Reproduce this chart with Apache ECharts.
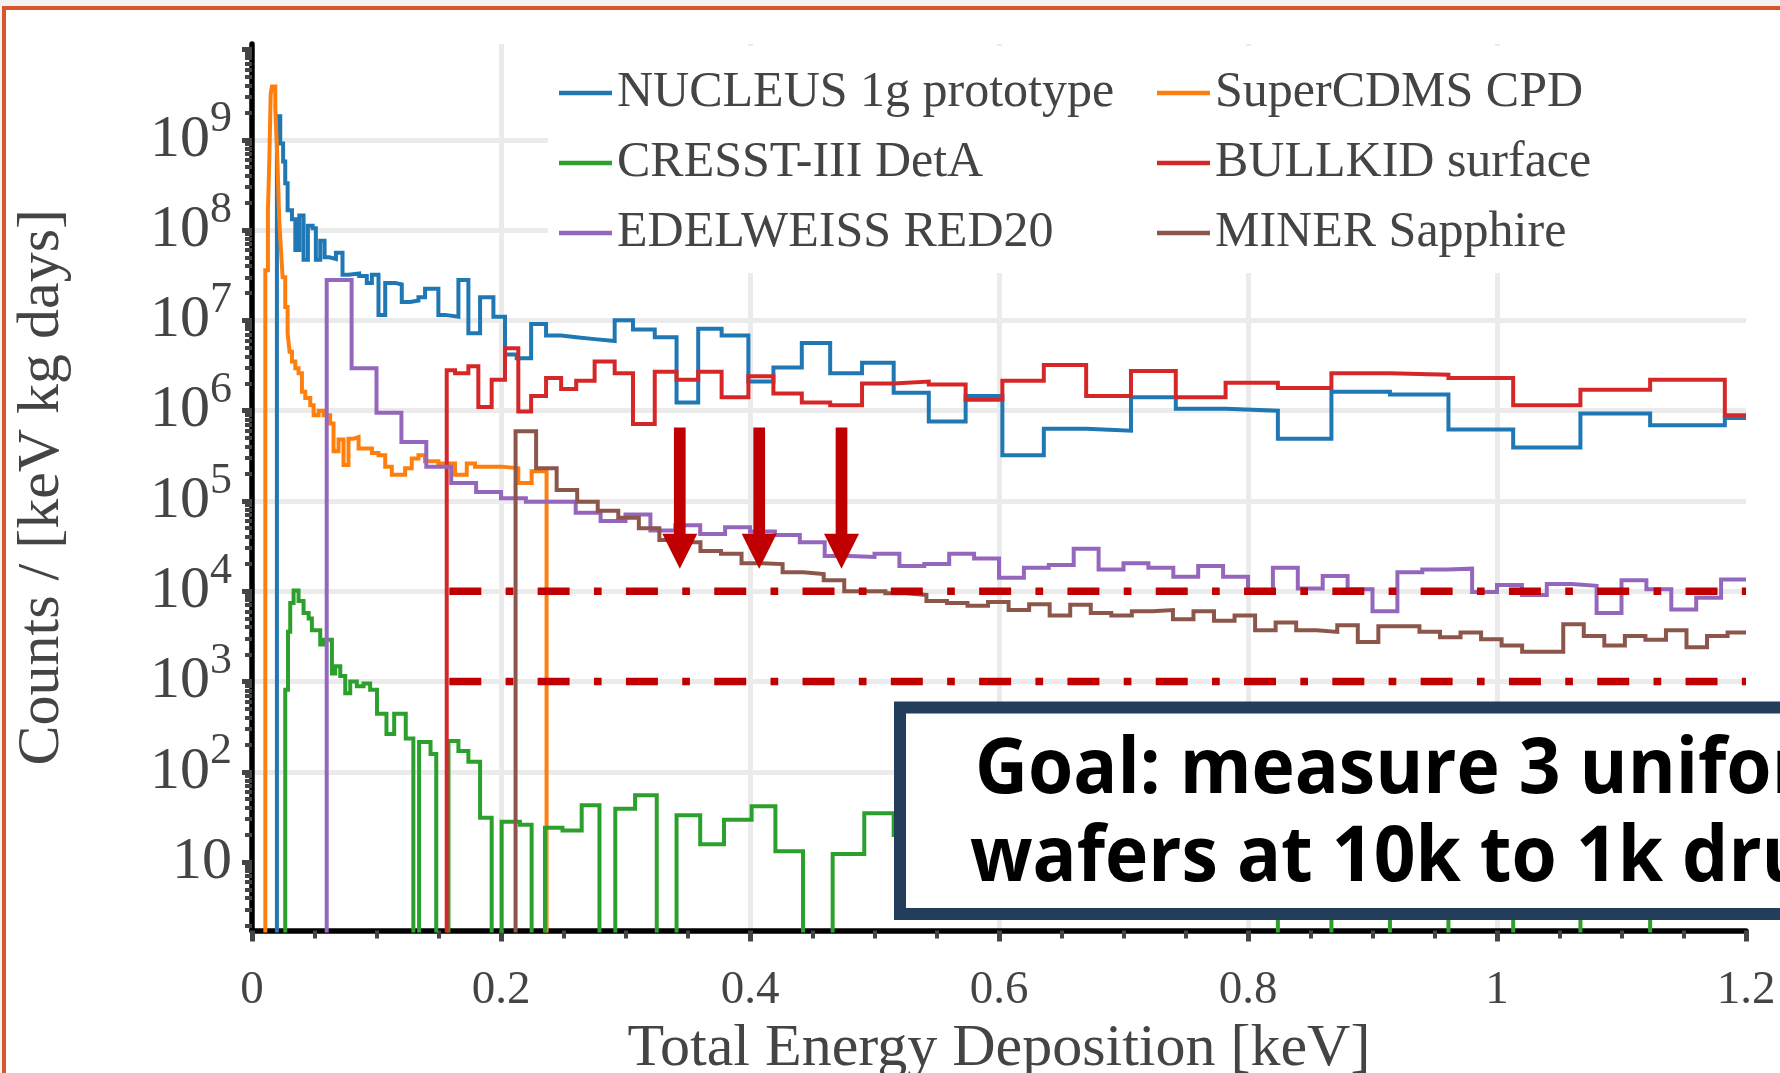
<!DOCTYPE html>
<html><head><meta charset="utf-8">
<script src="https://cdn.jsdelivr.net/npm/echarts@6/dist/echarts.min.js"></script>
<style>
html,body{margin:0;padding:0;width:1780px;height:1073px;overflow:hidden;background:#f2f2f2;}
#slide{position:absolute;left:2px;top:6px;width:2000px;height:2000px;border-left:4px solid #d9552e;border-top:4px solid #d9552e;background:#fff;}
#chart{position:absolute;left:0;top:0;width:1780px;height:1073px;}
</style></head><body><div id="slide"></div><div id="chart"></div>
<script>
// ---------------- data ----------------
const seriesNames = ['NUCLEUS 1g prototype','SuperCDMS CPD','CRESST-III DetA','BULLKID surface','EDELWEISS RED20','MINER Sapphire'];
const seriesColors = ['#1f77b4','#ff7f0e','#2ca02c','#d62728','#9467bd','#8c564b'];

const nucleusEdges = [0.020,0.0227,0.025,0.0267,0.0286,0.0321,0.0348,0.038,0.0414,0.0449,0.0487,0.0513,0.0548,0.0583,0.062,0.0674,0.0727,0.0775,0.0861,0.0922,0.0963,0.1016,0.107,0.115,0.1203,0.127,0.1337,0.139,0.1497,0.155,0.1658,0.1738,0.1832,0.1939,0.2032,0.2126,0.2242,0.2362,0.2483,0.2604,0.2752,0.2913,0.306,0.3235,0.341,0.3584,0.3772,0.3987,0.4188,0.4416,0.4644,0.49,0.5154,0.5436,0.5732,0.6027,0.636,0.670,0.706,0.742,0.782,0.824,0.867,0.914,0.961,1.013,1.067,1.123,1.183,1.2];
const nucleusCounts = [1.82e9,9.1e8,5.75e8,3.3e8,1.66e8,1.32e8,6.0e7,1.45e8,4.7e7,1.12e8,1.05e8,4.7e7,7.6e7,5.0e7,4.8e7,5.6e7,3.2e7,3.3e7,3.1e7,2.6e7,3.2e7,1.15e7,2.6e7,2.5e7,1.6e7,1.66e7,1.8e7,2.24e7,1.15e7,1.1e7,2.8e7,7.2e6,1.8e7,1.1e7,4.2e6,3.8e6,9.1e6,6.8e6,6.5e6,6.2e6,5.9e6,1.0e7,7.9e6,6.5e6,1.23e6,8.1e6,6.8e6,2.1e6,3.0e6,5.6e6,2.6e6,3.4e6,1.58e6,7.6e5,1.45e6,3.2e5,6.3e5,6.0e5,1.41e6,1.05e6,1.0e6,4.9e5,1.62e6,1.51e6,6.2e5,3.9e5,9.3e5,6.9e5,8.3e5];

const cdmsEdges = [0.0107,0.0128,0.0139,0.015,0.016,0.0187,0.0203,0.0219,0.0233,0.0246,0.0267,0.0286,0.0302,0.0321,0.0348,0.0374,0.0401,0.0428,0.0468,0.0495,0.0535,0.0575,0.0628,0.0655,0.0695,0.0735,0.0775,0.0816,0.0856,0.0909,0.0963,0.1016,0.107,0.1123,0.1176,0.123,0.1283,0.1337,0.139,0.1444,0.1497,0.1578,0.1631,0.1725,0.1791,0.1925,0.2005,0.2139,0.2246,0.2366];
const cdmsCounts = [3.6e7,1.66e8,5.9e8,3.2e9,3.9e9,2.3e9,6.5e8,1.29e8,6.0e7,3.0e7,1.41e7,7.2e6,4.5e6,3.5e6,2.95e6,2.6e6,1.62e6,1.38e6,1.15e6,8.9e5,1.0e6,8.9e5,7.2e5,3.55e5,4.8e5,2.5e5,4.9e5,5.1e5,3.8e5,3.8e5,3.4e5,3.2e5,2.4e5,1.95e5,1.95e5,2.3e5,2.95e5,3.2e5,2.75e5,2.75e5,2.6e5,2.6e5,1.95e5,2.6e5,2.4e5,2.4e5,2.3e5,1.58e5,2.14e5];

const cresstEdges = [0.0267,0.0289,0.0307,0.0334,0.0374,0.0414,0.0455,0.0481,0.0548,0.0575,0.0642,0.0668,0.0709,0.0749,0.0789,0.0842,0.0896,0.0949,0.1004,0.108,0.1142,0.1235,0.1296,0.1342,0.1434,0.148,0.1578,0.1658,0.1738,0.1832,0.1925,0.2005,0.2152,0.2246,0.2353,0.2494,0.2648,0.2791,0.2918,0.3077,0.3251,0.341,0.36,0.3791,0.4013,0.4204,0.4426,0.4664,0.4918,0.5154,0.5436,0.5732,0.6027,0.636,0.670,0.706,0.742,0.782,0.824,0.867,0.914,0.961,1.013,1.067,1.123,1.2];
const cresstCounts = [810,3550,7400,10200,7800,5750,5000,3700,2570,2900,1230,1480,1150,740,1000,890,950,810,440,263,440,234,0,214,158,0,219,170,129,31,0,28,26,0,24,22.4,42.7,0,39,55,0,33,15.8,29.5,41.7,13.2,0,12.3,34.7,20,16,25,12.6,20,16,10,16,12.6,0,12.6,0,10,0,10,0];

const bullkidEdges = [0.1564,0.1631,0.1738,0.1818,0.1925,0.2032,0.2139,0.2242,0.2362,0.2483,0.2604,0.2752,0.2913,0.306,0.3235,0.341,0.3584,0.3772,0.3987,0.4188,0.4416,0.4644,0.49,0.5154,0.5436,0.5732,0.6027,0.636,0.670,0.706,0.742,0.782,0.824,0.867,0.914,0.961,1.013,1.067,1.123,1.183,1.2];
const bullkidCounts = [2.8e6,2.6e6,3.1e6,1.1e6,2.2e6,4.9e6,9.8e5,1.45e6,2.3e6,1.74e6,2.14e6,3.5e6,2.6e6,7.1e5,2.7e6,2.2e6,2.7e6,1.41e6,2.4e6,1.55e6,1.23e6,1.15e6,2.0e6,2.1e6,1.95e6,1.32e6,2.14e6,3.2e6,1.45e6,2.75e6,1.41e6,2.04e6,1.78e6,2.6e6,2.5e6,2.3e6,1.15e6,1.7e6,2.2e6,8.9e5];

const edelweissEdges = [0.06,0.08,0.10,0.12,0.14,0.16,0.18,0.20,0.22,0.24,0.26,0.28,0.30,0.32,0.34,0.36,0.38,0.40,0.42,0.44,0.46,0.48,0.50,0.52,0.54,0.56,0.58,0.60,0.62,0.64,0.66,0.68,0.70,0.72,0.74,0.76,0.78,0.80,0.82,0.84,0.86,0.88,0.90,0.92,0.94,0.96,0.98,1.00,1.02,1.04,1.06,1.08,1.10,1.12,1.14,1.16,1.18,1.20];
const edelweissCounts = [2.8e7,2.95e6,9.5e5,4.5e5,2.4e5,1.58e5,1.26e5,1.07e5,9.8e4,9.8e4,7.4e4,6.0e4,7.1e4,4.7e4,5.4e4,4.3e4,5.1e4,4.6e4,4.2e4,3.5e4,2.45e4,2.4e4,2.6e4,1.9e4,2.0e4,2.6e4,2.3e4,1.41e4,1.82e4,1.95e4,2.95e4,1.74e4,2.04e4,1.82e4,1.45e4,1.9e4,1.45e4,1.0e4,1.82e4,1.07e4,1.48e4,1.05e4,6.0e3,1.62e4,1.74e4,1.78e4,9.8e3,1.17e4,9.1e3,1.2e4,1.15e4,5.75e3,1.32e4,1.05e4,6.3e3,8.5e3,1.35e4];

const minerEdges = [0.2117,0.2282,0.2447,0.2612,0.2777,0.2942,0.3107,0.3272,0.3437,0.3602,0.3767,0.3932,0.4097,0.4262,0.4427,0.4592,0.4757,0.4922,0.5087,0.5252,0.5417,0.5582,0.5747,0.5912,0.6077,0.6242,0.6407,0.6572,0.6737,0.6902,0.7067,0.7232,0.7397,0.7562,0.7727,0.7892,0.8057,0.8222,0.8387,0.8552,0.8717,0.8882,0.9047,0.9212,0.9377,0.9542,0.9707,0.9872,1.0037,1.0202,1.0367,1.0532,1.0697,1.0862,1.1027,1.1192,1.1357,1.1522,1.1687,1.1852,1.2];
const minerCounts = [5.9e5,2.3e5,1.32e5,9.8e4,7.8e4,6.5e4,5.0e4,3.7e4,3.5e4,2.8e4,2.6e4,2.04e4,2.0e4,1.62e4,1.55e4,1.32e4,1.0e4,1.0e4,9.5e3,9.1e3,7.8e3,7.4e3,6.9e3,7.6e3,6.2e3,7.2e3,5.4e3,7.1e3,5.75e3,5.4e3,6.0e3,6.2e3,4.9e3,6.0e3,4.7e3,5.4e3,3.7e3,4.5e3,3.7e3,3.55e3,4.2e3,2.75e3,4.1e3,4.1e3,3.55e3,3.1e3,3.5e3,2.95e3,2.5e3,2.14e3,2.14e3,4.3e3,3.2e3,2.5e3,3.2e3,2.9e3,3.7e3,2.4e3,3.2e3,3.5e3];

// goal levels (dash-dot) and arrows
const goalLevels = [1e4, 1e3];
const goalRange = [0.1585, 1.2];
const arrowX = [0.3436, 0.4074, 0.4735];
const arrowFrom = 6.5e5;
const arrowTo = 1.77e4;

// axis ticks / labels
const xTickLabels = ['0','0.2','0.4','0.6','0.8','1','1.2'];
const yLabelValues = [10,1e2,1e3,1e4,1e5,1e6,1e7,1e8,1e9];
const yMajorTicks = [10,1e2,1e3,1e4,1e5,1e6,1e7,1e8,1e9,1e10];
const yMinorTicks = [];
for (const d of [1,10,1e2,1e3,1e4,1e5,1e6,1e7,1e8,1e9]) for (let m = 2; m <= 9; m++) yMinorTicks.push(m*d);

// ---------------- build ----------------
const FLOOR = 0.1; // zero-count bins: below the axis floor
function hist(edges, vals, dropEnd) {
  const n = vals.length;
  const v = x => (x > 0 ? x : FLOOR);
  const pts = [[edges[0], FLOOR]];
  for (let i = 0; i < n; i++) pts.push([edges[i], v(vals[i])]);
  pts.push([edges[n], v(vals[n-1])]);
  if (dropEnd) pts.push([edges[n], FLOOR]);
  return pts;
}
const histData = [
  hist(nucleusEdges, nucleusCounts, false),
  hist(cdmsEdges, cdmsCounts, true),
  hist(cresstEdges, cresstCounts, false),
  hist(bullkidEdges, bullkidCounts, false),
  hist(edelweissEdges, edelweissCounts, false),
  hist(minerEdges, minerCounts, false)
];

const serif = 'Liberation Serif';
const series = seriesNames.map((name, i) => ({
  name, type: 'line', step: 'end', data: histData[i],
  symbol: 'none', showSymbol: false, clip: true, z: 2 + i * 0.01,
  color: seriesColors[i],
  lineStyle: { color: seriesColors[i], width: 4, join: 'miter', cap: 'butt' },
  emphasis: { disabled: true }, silent: true
}));
goalLevels.forEach(level => {
  series.push({
    type: 'line', data: goalRange.map(x => [x, level]), symbol: 'none', z: 6, silent: true,
    lineStyle: { color: '#c00000', width: 7.5, type: [32, 24.3, 7.7, 24.3], cap: 'butt' }
  });
});
series.push({
  type: 'custom', z: 8, clip: false, silent: true,
  data: arrowX.map(x => [x, arrowFrom, arrowTo]),
  encode: { x: 0, y: [1, 2] },
  renderItem(params, api) {
    const x = api.value(0);
    const top = api.coord([x, api.value(1)]);
    const tip = api.coord([x, api.value(2)]);
    const headH = 35, headW = 35, shaftW = 11.7;
    return { type: 'group', children: [
      { type: 'rect', shape: { x: top[0] - shaftW/2, y: top[1], width: shaftW, height: tip[1] - headH - top[1] + 1 }, style: { fill: '#c00000' } },
      { type: 'polygon', shape: { points: [[tip[0]-headW/2, tip[1]-headH], [tip[0]+headW/2, tip[1]-headH], [tip[0], tip[1]]] }, style: { fill: '#c00000' } }
    ]};
  }
});

const legendCommon = {
  orient: 'vertical', top: 58, itemWidth: 53, itemHeight: 4.5, itemGap: 0, icon: 'rect',
  padding: 0, selectedMode: false,
  textStyle: { fontFamily: serif, fontSize: 50, color: '#444', lineHeight: 70 }
};

const chart = echarts.init(document.getElementById('chart'), null, { renderer: 'canvas' });
chart.setOption({
  animation: false,
  backgroundColor: 'transparent',
  grid: { left: 252, right: 34, top: 44, bottom: 142.5, containLabel: false, outerBoundsMode: 'none' },
  legend: [
    Object.assign({}, legendCommon, { left: 559, data: [seriesNames[0], seriesNames[2], seriesNames[4]] }),
    Object.assign({}, legendCommon, { left: 1157, data: [seriesNames[1], seriesNames[3], seriesNames[5]] })
  ],
  xAxis: {
    type: 'value', min: 0, max: 1.2, interval: 0.2,
    name: 'Total Energy Deposition [keV]', nameLocation: 'middle', nameGap: 81,
    nameTextStyle: { fontFamily: serif, fontSize: 60, color: '#444' },
    axisLine: { show: true, onZero: false, lineStyle: { color: '#000', width: 5.5 } },
    axisTick: { show: true, length: 11, lineStyle: { color: '#444', width: 5 } },
    minorTick: { show: true, splitNumber: 4, length: 8, lineStyle: { color: '#444', width: 4 } },
    axisLabel: { fontFamily: serif, fontSize: 47, color: '#444', margin: 37, showMaxLabel: true, showMinLabel: true,
      formatter: v => xTickLabels[Math.round(v / 0.2)] },
    splitLine: { show: true, showMinLine: false, showMaxLine: false, lineStyle: { color: '#ebebeb', width: 5 } }
  },
  yAxis: [{
    type: 'log', logBase: 10, min: 1.75, max: 1.15e10, splitNumber: 10,
    name: 'Counts / [keV kg days]', nameLocation: 'middle', nameGap: 180, nameRotate: 90,
    nameTextStyle: { fontFamily: serif, fontSize: 60, color: '#444' },
    axisLine: { show: true, onZero: false, lineStyle: { color: '#000', width: 5.5 } },
    axisTick: { show: true, length: 10, customValues: yMajorTicks, lineStyle: { color: '#444', width: 5 } },
    minorTick: { show: false },
    axisLabel: {
      customValues: yLabelValues, margin: 20,
      formatter: v => {
        const e = Math.round(Math.log10(v));
        if (e === 1) return '{b|10}';
        return '{b|10}{s|' + e + '}';
      },
      rich: {
        b: { fontFamily: serif, fontSize: 60, color: '#444', lineHeight: 84, verticalAlign: 'middle' },
        s: { fontFamily: serif, fontSize: 44, color: '#444', lineHeight: 44, verticalAlign: 'top' }
      }
    },
    splitLine: { show: true, showMinLine: false, showMaxLine: false, lineStyle: { color: '#ebebeb', width: 5 } }
  }, {
    type: 'log', logBase: 10, min: 1.75, max: 1.15e10, position: 'left', offset: 0,
    axisLine: { show: false }, axisLabel: { show: false }, splitLine: { show: false },
    axisTick: { show: true, length: 7, customValues: yMinorTicks, lineStyle: { color: '#444', width: 4 } }
  }],
  graphic: [
    { type: 'rect', z: 3, silent: true, shape: { x: 548, y: 46, width: 1240, height: 227 }, style: { fill: '#fff' } },
    { type: 'rect', z: 20, silent: true, shape: { x: 900, y: 707.5, width: 1000, height: 206.5 }, style: { fill: '#fff', stroke: '#233e5a', lineWidth: 12 } },
    { type: 'text', z: 21, silent: true, x: 975, y: 771, scaleX: 0.95, style: { text: 'Goal: measure 3 uniform', font: 'bold 77px "Open Sans"', fill: '#000', verticalAlign: 'middle' } },
    { type: 'text', z: 21, silent: true, x: 970, y: 859, scaleX: 0.95, style: { text: 'wafers at 10k to 1k dru', font: 'bold 77px "Open Sans"', fill: '#000', verticalAlign: 'middle' } }
  ],
  series
});
</script></body></html>
